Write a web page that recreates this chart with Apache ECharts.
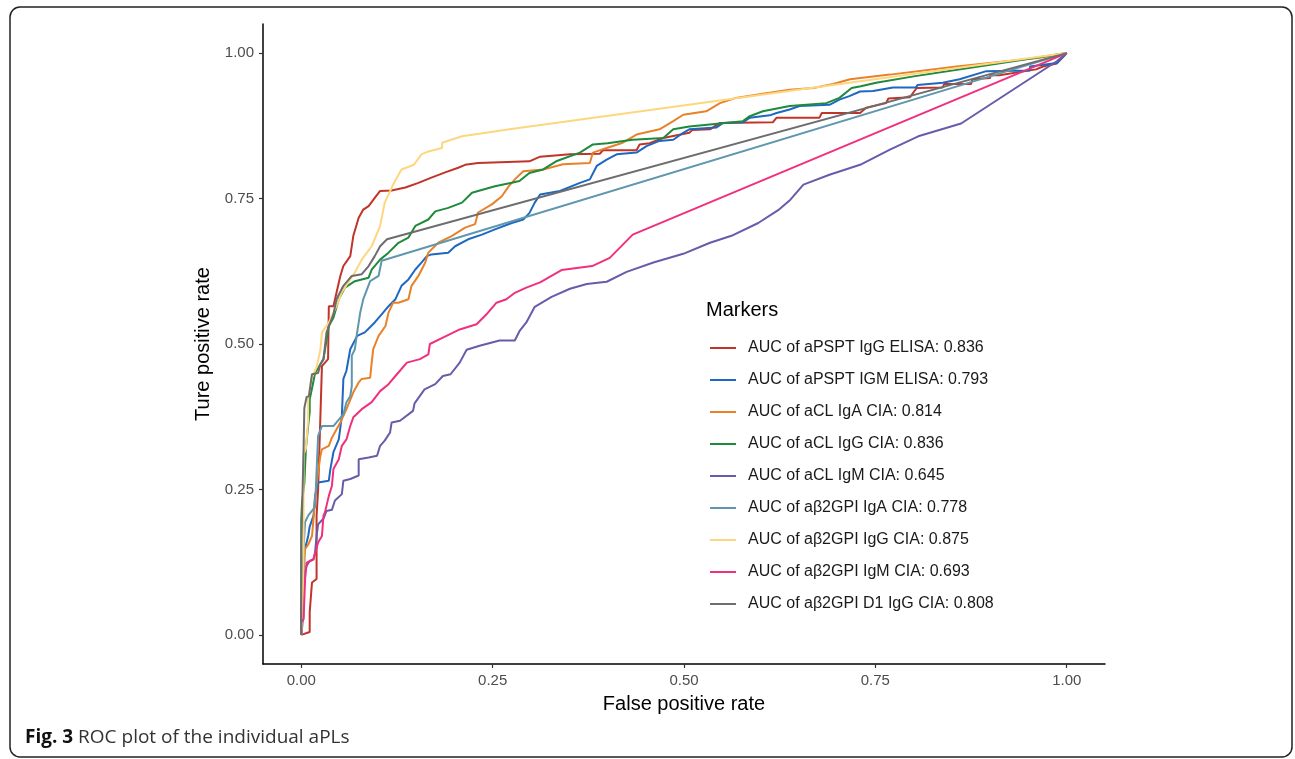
<!DOCTYPE html>
<html>
<head>
<meta charset="utf-8">
<script src="https://cdn.jsdelivr.net/npm/echarts@6/dist/echarts.min.js"></script>
<style>
html,body{margin:0;padding:0;background:#fff;}
#chart{width:1295px;height:759px;}
</style>
</head>
<body>
<div id="chart"></div>
<script>
// ---- data (false positive rate, true positive rate) ----
const seriesNames = [
  'AUC of aPSPT IgG ELISA: 0.836',
  'AUC of aPSPT IGM ELISA: 0.793',
  'AUC of aCL IgA CIA: 0.814',
  'AUC of aCL IgG CIA: 0.836',
  'AUC of aCL IgM CIA: 0.645',
  'AUC of a\u03b22GPI IgA CIA: 0.778',
  'AUC of a\u03b22GPI IgG CIA: 0.875',
  'AUC of a\u03b22GPI IgM CIA: 0.693',
  'AUC of a\u03b22GPI D1 IgG CIA: 0.808'
];
const tickValues = [0, 0.25, 0.5, 0.75, 1];

const rocPsptIgG = [[0,0],[0.011,0.005],[0.011,0.039],[0.014,0.09],[0.02,0.096],[0.02,0.205],[0.022,0.25],[0.025,0.376],[0.027,0.462],[0.035,0.474],[0.036,0.565],[0.042,0.565],[0.051,0.617],[0.055,0.634],[0.064,0.651],[0.068,0.686],[0.075,0.717],[0.081,0.731],[0.088,0.737],[0.096,0.751],[0.103,0.763],[0.118,0.764],[0.136,0.769],[0.153,0.777],[0.17,0.786],[0.188,0.795],[0.205,0.803],[0.214,0.808],[0.231,0.811],[0.298,0.814],[0.312,0.822],[0.351,0.826],[0.39,0.827],[0.394,0.833],[0.438,0.833],[0.442,0.843],[0.455,0.845],[0.473,0.854],[0.507,0.863],[0.511,0.868],[0.534,0.869],[0.547,0.88],[0.616,0.881],[0.621,0.889],[0.677,0.889],[0.68,0.897],[0.73,0.897],[0.738,0.906],[0.764,0.914],[0.767,0.922],[0.795,0.924],[0.804,0.94],[0.838,0.941],[0.84,0.947],[0.875,0.947],[0.877,0.955],[0.9,0.957],[0.9,0.962],[0.912,0.962],[0.96,0.972],[0.969,0.977],[0.987,0.982],[1,1]];

const rocPsptIgM = [[0,0],[0,0.033],[0.003,0.136],[0.005,0.148],[0.009,0.17],[0.011,0.186],[0.016,0.205],[0.018,0.239],[0.022,0.262],[0.036,0.265],[0.038,0.285],[0.042,0.314],[0.049,0.336],[0.053,0.376],[0.055,0.44],[0.059,0.454],[0.064,0.491],[0.073,0.514],[0.083,0.52],[0.096,0.537],[0.105,0.551],[0.114,0.565],[0.123,0.577],[0.131,0.6],[0.14,0.611],[0.149,0.628],[0.157,0.64],[0.164,0.651],[0.17,0.654],[0.192,0.657],[0.201,0.668],[0.218,0.68],[0.236,0.688],[0.253,0.697],[0.275,0.708],[0.29,0.714],[0.298,0.725],[0.305,0.743],[0.312,0.757],[0.338,0.763],[0.364,0.777],[0.377,0.783],[0.386,0.806],[0.399,0.817],[0.412,0.826],[0.438,0.829],[0.451,0.84],[0.468,0.849],[0.486,0.851],[0.499,0.863],[0.507,0.869],[0.542,0.872],[0.551,0.88],[0.577,0.881],[0.586,0.889],[0.612,0.893],[0.621,0.897],[0.638,0.903],[0.651,0.909],[0.69,0.911],[0.703,0.92],[0.716,0.926],[0.73,0.934],[0.747,0.935],[0.773,0.941],[0.803,0.941],[0.805,0.945],[0.838,0.949],[0.86,0.955],[0.895,0.969],[0.952,0.97],[0.952,0.977],[0.987,0.983],[1,1]];

const rocClIgA = [[0,0],[0,0.05],[0.002,0.067],[0.005,0.148],[0.009,0.155],[0.014,0.17],[0.016,0.2],[0.02,0.26],[0.025,0.308],[0.027,0.319],[0.036,0.325],[0.04,0.339],[0.051,0.365],[0.059,0.388],[0.068,0.417],[0.075,0.434],[0.079,0.44],[0.09,0.442],[0.092,0.468],[0.094,0.491],[0.101,0.514],[0.11,0.531],[0.114,0.554],[0.12,0.571],[0.127,0.571],[0.14,0.577],[0.144,0.6],[0.153,0.617],[0.162,0.64],[0.166,0.657],[0.179,0.674],[0.197,0.686],[0.214,0.7],[0.227,0.706],[0.231,0.726],[0.249,0.74],[0.262,0.754],[0.271,0.771],[0.279,0.783],[0.29,0.797],[0.316,0.8],[0.342,0.809],[0.377,0.811],[0.381,0.829],[0.399,0.837],[0.42,0.846],[0.438,0.86],[0.468,0.869],[0.486,0.883],[0.499,0.894],[0.529,0.9],[0.547,0.914],[0.568,0.923],[0.603,0.93],[0.638,0.937],[0.669,0.94],[0.695,0.947],[0.717,0.955],[0.769,0.963],[0.856,0.977],[0.965,0.992],[1,1]];

const rocClIgG = [[0,0],[0,0.2],[0.001,0.228],[0.004,0.26],[0.006,0.32],[0.009,0.36],[0.011,0.383],[0.011,0.405],[0.015,0.43],[0.018,0.45],[0.025,0.465],[0.029,0.474],[0.036,0.531],[0.042,0.545],[0.049,0.577],[0.057,0.597],[0.07,0.608],[0.088,0.614],[0.092,0.628],[0.103,0.645],[0.114,0.657],[0.127,0.674],[0.14,0.683],[0.149,0.703],[0.166,0.714],[0.175,0.728],[0.192,0.734],[0.21,0.743],[0.223,0.76],[0.231,0.763],[0.253,0.771],[0.275,0.777],[0.285,0.78],[0.298,0.794],[0.316,0.8],[0.333,0.814],[0.364,0.829],[0.381,0.843],[0.4,0.845],[0.433,0.851],[0.473,0.854],[0.486,0.869],[0.507,0.874],[0.577,0.883],[0.585,0.891],[0.603,0.9],[0.638,0.909],[0.686,0.914],[0.703,0.923],[0.719,0.94],[0.731,0.943],[0.751,0.949],[0.8,0.96],[0.9,0.98],[1,1]];

const rocClIgM = [[0,0],[0,0.033],[0.003,0.096],[0.007,0.119],[0.011,0.127],[0.016,0.13],[0.018,0.142],[0.02,0.17],[0.022,0.19],[0.029,0.2],[0.033,0.213],[0.04,0.215],[0.044,0.231],[0.053,0.242],[0.055,0.265],[0.064,0.268],[0.075,0.274],[0.075,0.302],[0.088,0.305],[0.099,0.308],[0.103,0.325],[0.109,0.334],[0.116,0.348],[0.118,0.365],[0.129,0.368],[0.146,0.385],[0.148,0.398],[0.161,0.422],[0.175,0.431],[0.185,0.445],[0.195,0.448],[0.207,0.468],[0.216,0.49],[0.233,0.497],[0.259,0.506],[0.279,0.506],[0.285,0.522],[0.294,0.537],[0.305,0.564],[0.327,0.581],[0.351,0.595],[0.373,0.603],[0.399,0.607],[0.425,0.624],[0.46,0.64],[0.499,0.655],[0.534,0.674],[0.562,0.686],[0.597,0.708],[0.623,0.73],[0.639,0.748],[0.656,0.774],[0.69,0.791],[0.732,0.809],[0.769,0.834],[0.806,0.857],[0.862,0.879],[0.987,0.986],[1,1]];

const rocB2IgA = [[0,0],[0.003,0.033],[0.003,0.148],[0.005,0.194],[0.009,0.205],[0.018,0.22],[0.022,0.342],[0.027,0.359],[0.042,0.359],[0.049,0.37],[0.055,0.379],[0.059,0.4],[0.064,0.41],[0.066,0.428],[0.066,0.48],[0.07,0.491],[0.073,0.52],[0.077,0.554],[0.081,0.577],[0.09,0.608],[0.101,0.617],[0.105,0.643],[1,1]];

const rocB2IgG = [[0,0],[0.002,0.05],[0.003,0.15],[0.003,0.31],[0.006,0.32],[0.009,0.37],[0.009,0.405],[0.013,0.44],[0.02,0.46],[0.025,0.49],[0.027,0.52],[0.036,0.537],[0.046,0.565],[0.053,0.589],[0.07,0.623],[0.079,0.645],[0.092,0.668],[0.103,0.703],[0.109,0.743],[0.12,0.774],[0.131,0.8],[0.147,0.808],[0.157,0.826],[0.166,0.831],[0.184,0.837],[0.184,0.846],[0.21,0.857],[0.272,0.869],[1,1]];

const rocB2IgM = [[0,0],[0,0.022],[0.003,0.027],[0.005,0.096],[0.007,0.124],[0.016,0.13],[0.022,0.159],[0.027,0.17],[0.029,0.205],[0.031,0.211],[0.036,0.239],[0.04,0.256],[0.042,0.285],[0.049,0.302],[0.053,0.325],[0.059,0.336],[0.064,0.359],[0.068,0.374],[0.079,0.388],[0.092,0.4],[0.103,0.419],[0.114,0.431],[0.123,0.445],[0.138,0.468],[0.155,0.474],[0.166,0.482],[0.168,0.5],[0.185,0.511],[0.207,0.525],[0.229,0.534],[0.242,0.551],[0.255,0.571],[0.268,0.577],[0.279,0.588],[0.294,0.597],[0.312,0.606],[0.34,0.627],[0.38,0.634],[0.403,0.648],[0.433,0.688],[1,1]];

const rocB2D1IgG = [[0,0],[0,0.153],[0.003,0.32],[0.004,0.39],[0.007,0.409],[0.01,0.41],[0.014,0.448],[0.022,0.45],[0.025,0.465],[0.029,0.474],[0.033,0.52],[0.042,0.551],[0.046,0.577],[0.055,0.6],[0.066,0.617],[0.079,0.62],[0.088,0.634],[0.096,0.651],[0.103,0.668],[0.112,0.68],[1,1]];

const seriesData = [rocPsptIgG, rocPsptIgM, rocClIgA, rocClIgG, rocClIgM, rocB2IgA, rocB2IgG, rocB2IgM, rocB2D1IgG];
const seriesColors = ['#C1342A','#1F68C1','#E8822A','#1F8A3C','#6A5BAA','#5E97AE','#FDD77F','#F0307E','#6D6D6D'];

const chart = echarts.init(document.getElementById('chart'), null, {renderer:'canvas'});
const axisFont = 'Liberation Sans, Arial, sans-serif';

const option = {
  animation: false,
  backgroundColor: '#ffffff',
  color: seriesColors,
  title: {
    text: 'Markers',
    left: 706, top: 300,
    padding: 0,
    textStyle: {fontFamily: axisFont, fontSize: 20, fontWeight: 'normal', color: '#000'}
  },
  legend: {
    orient: 'vertical',
    left: 710, top: 338,
    padding: 0,
    icon: 'rect',
    itemWidth: 26, itemHeight: 2,
    itemGap: 12,
    data: seriesNames,
    textStyle: {fontFamily: axisFont, fontSize: 16, color: '#1a1a1a', lineHeight: 20, padding: [0,0,0,7]}
  },
  grid: {left: 263, right: 190, top: 24, bottom: 95, containLabel: false},
  xAxis: {
    type: 'value', min: -0.05, max: 1.05,
    name: 'False positive rate', nameLocation: 'middle', nameGap: 30,
    nameTextStyle: {fontFamily: axisFont, fontSize: 20, color: '#000'},
    axisLine: {show: true, onZero: false, lineStyle: {color: '#000', width: 1.5}},
    axisTick: {show: true, length: 4, customValues: tickValues, lineStyle: {color: '#333', width: 1.2}},
    axisLabel: {customValues: tickValues, margin: 9, fontFamily: axisFont, fontSize: 15, color: '#4d4d4d',
      formatter: v => v.toFixed(2)},
    splitLine: {show: false}
  },
  yAxis: {
    type: 'value', min: -0.05, max: 1.05,
    name: 'Ture positive rate', nameLocation: 'middle', nameGap: 42, nameRotate: 90,
    nameTextStyle: {fontFamily: axisFont, fontSize: 20, color: '#000'},
    axisLine: {show: true, onZero: false, lineStyle: {color: '#000', width: 1.5}},
    axisTick: {show: true, length: 4, customValues: tickValues, lineStyle: {color: '#333', width: 1.2}},
    axisLabel: {customValues: tickValues, margin: 9, fontFamily: axisFont, fontSize: 15, color: '#4d4d4d',
      formatter: v => v.toFixed(2)},
    splitLine: {show: false}
  },
  series: seriesNames.map((n, i) => ({
    name: n,
    type: 'line',
    data: seriesData[i],
    symbol: 'none',
    lineStyle: {width: 2, color: seriesColors[i]},
    itemStyle: {color: seriesColors[i]},
    z: 2 + i
  })),
  graphic: [
    {type: 'rect', shape: {x: 10, y: 7, width: 1282, height: 750, r: 10},
     style: {fill: 'none', stroke: '#222', lineWidth: 1.5}, silent: true},
    {type: 'text', left: 25, top: 728,
     style: {text: '{b|Fig. 3} ROC plot of the individual aPLs',
       font: '19px "Open Sans", "Noto Sans", sans-serif', fill: '#333',
       rich: {b: {fontWeight: 'bold', fontSize: 19, fontFamily: 'Open Sans', fill: '#111'}}}}
  ]
};
chart.setOption(option);
</script>
</body>
</html>
